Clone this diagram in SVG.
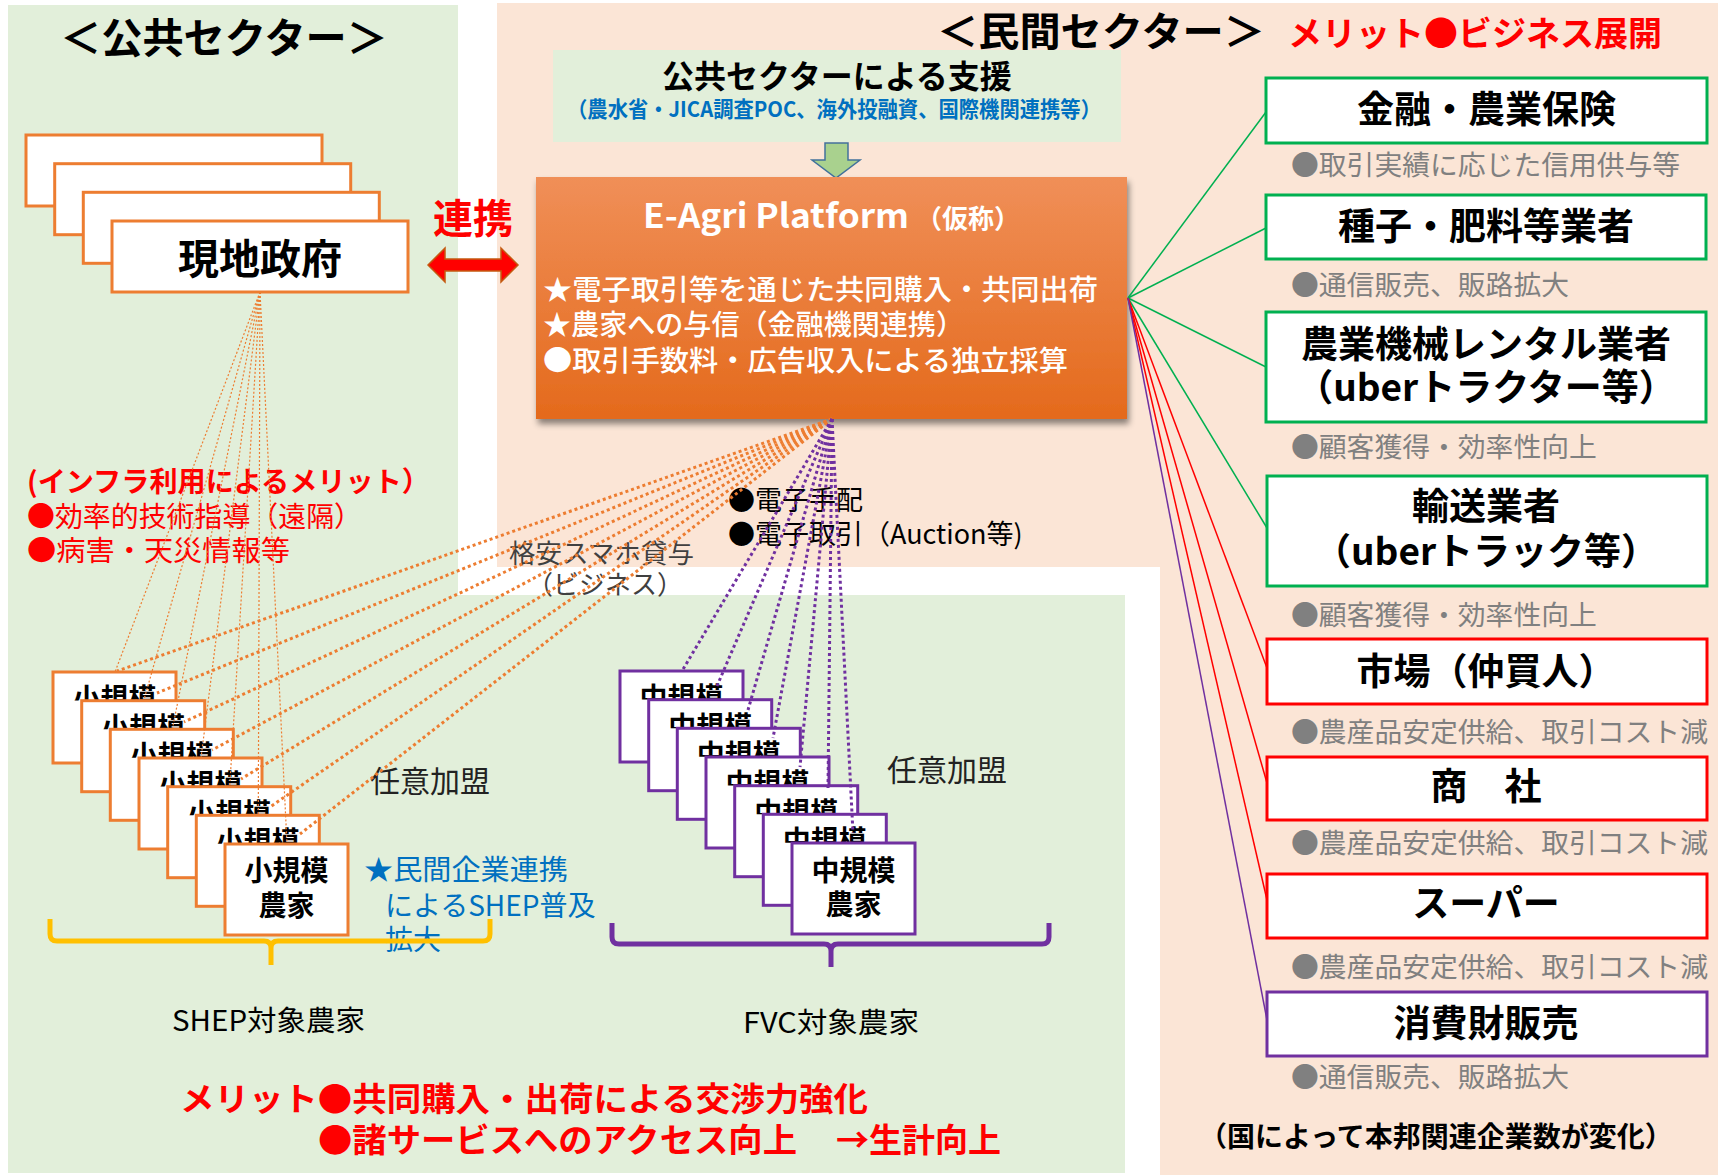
<svg xmlns="http://www.w3.org/2000/svg" width="1718" height="1175" viewBox="0 0 1718 1175">
<defs>
<linearGradient id="gOrange" x1="0" y1="0" x2="0" y2="1">
<stop offset="0" stop-color="#F08F58"/>
<stop offset="1" stop-color="#E46A1C"/>
</linearGradient>
<filter id="shadow" x="-5%" y="-5%" width="110%" height="115%">
<feDropShadow dx="2" dy="5" stdDeviation="3" flood-color="#000" flood-opacity="0.45"/>
</filter>
<clipPath id="cs1" clipPathUnits="userSpaceOnUse"><rect x="53" y="672" width="123" height="28.5"/></clipPath>
<clipPath id="cs2" clipPathUnits="userSpaceOnUse"><rect x="81.7" y="700.7" width="123" height="28.5"/></clipPath>
<clipPath id="cs3" clipPathUnits="userSpaceOnUse"><rect x="110.3" y="729.3" width="123" height="28.5"/></clipPath>
<clipPath id="cs4" clipPathUnits="userSpaceOnUse"><rect x="139" y="758" width="123" height="28.5"/></clipPath>
<clipPath id="cs5" clipPathUnits="userSpaceOnUse"><rect x="167.7" y="786.7" width="123" height="28.5"/></clipPath>
<clipPath id="cs6" clipPathUnits="userSpaceOnUse"><rect x="196.3" y="815.3" width="123" height="28.5"/></clipPath>
<clipPath id="cm1" clipPathUnits="userSpaceOnUse"><rect x="620" y="671" width="123" height="28.5"/></clipPath>
<clipPath id="cm2" clipPathUnits="userSpaceOnUse"><rect x="648.7" y="699.7" width="123" height="28.5"/></clipPath>
<clipPath id="cm3" clipPathUnits="userSpaceOnUse"><rect x="677.3" y="728.3" width="123" height="28.5"/></clipPath>
<clipPath id="cm4" clipPathUnits="userSpaceOnUse"><rect x="706" y="757" width="123" height="28.5"/></clipPath>
<clipPath id="cm5" clipPathUnits="userSpaceOnUse"><rect x="734.7" y="785.7" width="123" height="28.5"/></clipPath>
<clipPath id="cm6" clipPathUnits="userSpaceOnUse"><rect x="763.3" y="814.3" width="123" height="28.5"/></clipPath>
</defs>
<style>
text{font-family:"Noto Sans CJK JP","Noto Sans",sans-serif;}
.b{font-weight:bold;}
.ob{fill:#fff;stroke:#ED7D31;stroke-width:3;}
.pb{fill:#fff;stroke:#7030A0;stroke-width:3;}
.gb{fill:#fff;stroke:#00B050;stroke-width:3;}
.rb{fill:#fff;stroke:#FF0000;stroke-width:3;}
.vb{fill:#fff;stroke:#7030A0;stroke-width:3;}
.farm{font-size:28px;font-weight:bold;fill:#000;text-anchor:middle;}
.biz{font-size:37px;font-weight:bold;fill:#000;text-anchor:middle;}
.gray{font-size:27.8px;fill:#808080;}
.thin{stroke:#ED7D31;stroke-width:1.2;stroke-dasharray:2 2;fill:none;}
.thick{stroke:#ED7D31;stroke-width:3;stroke-dasharray:3 3;fill:none;}
.purp{stroke:#7030A0;stroke-width:3;stroke-dasharray:3 3;fill:none;}
.gl{stroke:#00B050;stroke-width:1.5;fill:none;}
.rl{stroke:#FF0000;stroke-width:1.5;fill:none;}
.vl{stroke:#7030A0;stroke-width:1.5;fill:none;}
</style>

<!-- backgrounds -->
<g id="backgrounds">
<rect x="0" y="0" width="1718" height="1175" fill="#fff"/>
<path d="M497,3 H1718 V1175 H1160 V567 H497 Z" fill="#FBE5D6"/>
<path d="M8,5 H458 V595 H1125 V1173 H8 Z" fill="#E2EFDA"/>
</g>

<!-- titles -->
<g id="titles">
<text x="60" y="53" class="b" font-size="41" textLength="328" lengthAdjust="spacingAndGlyphs">＜公共セクター＞</text>
<text x="937" y="46" class="b" font-size="40" textLength="328" lengthAdjust="spacingAndGlyphs">＜民間セクター＞</text>
<text x="1288" y="46" class="b" font-size="34" fill="#FF0000" textLength="374" lengthAdjust="spacingAndGlyphs">メリット●ビジネス展開</text>
</g>

<!-- government stack -->
<g id="node-gov">
<rect class="ob" x="26" y="135" width="296" height="71"/>
<rect class="ob" x="54.7" y="163.7" width="296" height="71"/>
<rect class="ob" x="83.3" y="192.3" width="296" height="71"/>
<rect class="ob" x="112" y="221" width="296" height="71"/>
<text x="260" y="274" class="b" font-size="41" text-anchor="middle">現地政府</text>
</g>

<!-- renkei arrow -->
<g id="node-renkei">
<text x="433" y="233" class="b" font-size="40" fill="#FF0000">連携</text>
<path d="M428,265 L445,248 L445,259 L501,259 L501,248 L518,265 L501,282 L501,271 L445,271 L445,282 Z" fill="#FF0000" stroke="#C55A11" stroke-width="1.5"/>
</g>

<!-- public support box -->
<g id="node-support">
<rect x="553" y="50" width="568" height="92" fill="#E2EFDA"/>
<text x="837" y="88" class="b" font-size="32" text-anchor="middle">公共セクターによる支援</text>
<text x="567" y="117" class="b" font-size="21.5" fill="#0070C0" textLength="534" lengthAdjust="spacingAndGlyphs">（農水省・JICA調査POC、海外投融資、国際機関連携等）</text>
<path d="M825,143 H848 V160 H860 L836,178 L812,160 H825 Z" fill="#A9D18E" stroke="#41719C" stroke-width="1.5"/>
</g>

<!-- E-Agri platform -->
<g id="node-platform">
<rect x="536" y="177" width="591" height="242" fill="url(#gOrange)" filter="url(#shadow)"/>
<text x="643" y="228" font-family="Noto Sans, sans-serif" font-weight="bold" font-size="33" fill="#fff" textLength="266" lengthAdjust="spacingAndGlyphs">E-Agri Platform</text>
<text x="916" y="228" class="b" font-size="26" fill="#fff">（仮称）</text>
<text x="543" y="300" font-size="28" font-weight="500" fill="#fff" textLength="555" lengthAdjust="spacingAndGlyphs">★電子取引等を通じた共同購入・共同出荷</text>
<text x="543" y="335" font-size="28" font-weight="500" fill="#fff" textLength="421" lengthAdjust="spacingAndGlyphs">★農家への与信（金融機関連携）</text>
<text x="543" y="371" font-size="28" font-weight="500" fill="#fff" textLength="525" lengthAdjust="spacingAndGlyphs">●取引手数料・広告収入による独立採算</text>
</g>

<!-- left texts -->
<g id="infra-texts">
<text x="27" y="492" class="b" font-size="28" fill="#FF0000" textLength="403" lengthAdjust="spacingAndGlyphs">(インフラ利用によるメリット）</text>
<text x="27" y="527" font-size="28" fill="#FF0000" textLength="335" lengthAdjust="spacingAndGlyphs">●効率的技術指導（遠隔）</text>
<text x="27" y="561" font-size="28" fill="#FF0000" textLength="263" lengthAdjust="spacingAndGlyphs">●病害・天災情報等</text>
</g>

<g id="labels-mid">
<text x="728" y="510" font-size="27" fill="#000">●電子手配</text>
<text x="728" y="544" font-size="27" fill="#000">●電子取引（Auction等)</text>
<text x="509" y="563" font-size="26" fill="#404040" textLength="185" lengthAdjust="spacingAndGlyphs">格安スマホ貸与</text>
<text x="527" y="594" font-size="26" fill="#404040">（ビジネス）</text>
<text x="370" y="792" font-size="30" fill="#222">任意加盟</text>
<text x="887" y="781" font-size="30" fill="#222">任意加盟</text>
<text x="364" y="880" font-size="28" fill="#0070C0" textLength="204" lengthAdjust="spacingAndGlyphs">★民間企業連携</text>
<text x="385" y="916" font-size="28" fill="#0070C0">によるSHEP普及</text>
<text x="385" y="950" font-size="28" fill="#0070C0">拡大</text>
</g>

<!-- small farmers -->
<g id="node-small-farmers">
<rect class="ob" x="53" y="672" width="123" height="91"/><text class="farm" x="114.5" y="709" clip-path="url(#cs1)">小規模</text>
<rect class="ob" x="81.7" y="700.7" width="123" height="91"/><text class="farm" x="143.2" y="737.7" clip-path="url(#cs2)">小規模</text>
<rect class="ob" x="110.3" y="729.3" width="123" height="91"/><text class="farm" x="171.8" y="766.3" clip-path="url(#cs3)">小規模</text>
<rect class="ob" x="139" y="758" width="123" height="91"/><text class="farm" x="200.5" y="795" clip-path="url(#cs4)">小規模</text>
<rect class="ob" x="167.7" y="786.7" width="123" height="91"/><text class="farm" x="229.2" y="823.7" clip-path="url(#cs5)">小規模</text>
<rect class="ob" x="196.3" y="815.3" width="123" height="91"/><text class="farm" x="257.8" y="852.3" clip-path="url(#cs6)">小規模</text>
<rect class="ob" x="225" y="844" width="123" height="91"/><text class="farm" x="286.5" y="881">小規模</text><text class="farm" x="286.5" y="916">農家</text>
</g>

<!-- medium farmers -->
<g id="node-medium-farmers">
<rect class="pb" x="620" y="671" width="123" height="91"/><text class="farm" x="681.5" y="708" clip-path="url(#cm1)">中規模</text>
<rect class="pb" x="648.7" y="699.7" width="123" height="91"/><text class="farm" x="710.2" y="736.7" clip-path="url(#cm2)">中規模</text>
<rect class="pb" x="677.3" y="728.3" width="123" height="91"/><text class="farm" x="738.8" y="765.3" clip-path="url(#cm3)">中規模</text>
<rect class="pb" x="706" y="757" width="123" height="91"/><text class="farm" x="767.5" y="794" clip-path="url(#cm4)">中規模</text>
<rect class="pb" x="734.7" y="785.7" width="123" height="91"/><text class="farm" x="796.2" y="822.7" clip-path="url(#cm5)">中規模</text>
<rect class="pb" x="763.3" y="814.3" width="123" height="91"/><text class="farm" x="824.8" y="851.3" clip-path="url(#cm6)">中規模</text>
<rect class="pb" x="792" y="843" width="123" height="91"/><text class="farm" x="853.5" y="881">中規模</text><text class="farm" x="853.5" y="915">農家</text>
</g>

<!-- braces and group labels -->
<g id="node-groups">
<path d="M50,919 V934 Q50,941 57,941 H264 Q271,941 271,948 V965 M271,948 Q271,941 278,941 H483 Q490,941 490,934 V919" fill="none" stroke="#FFC000" stroke-width="5"/>
<path d="M612,923 V937 Q612,944 619,944 H824 Q831,944 831,951 V967 M831,951 Q831,944 838,944 H1042 Q1049,944 1049,937 V923" fill="none" stroke="#7030A0" stroke-width="5"/>
<text x="172" y="1031" font-size="28" fill="#000" textLength="193" lengthAdjust="spacingAndGlyphs">SHEP対象農家</text>
<text x="743" y="1033" font-size="28" fill="#000" textLength="176" lengthAdjust="spacingAndGlyphs">FVC対象農家</text>
</g>

<!-- bottom merit -->
<g id="merit">
<text x="180" y="1111" class="b" font-size="32.7" fill="#FF0000" textLength="688" lengthAdjust="spacingAndGlyphs">メリット●共同購入・出荷による交渉力強化</text>
<text y="1152" class="b" font-size="33" fill="#FF0000"><tspan x="318" textLength="479" lengthAdjust="spacingAndGlyphs">●諸サービスへのアクセス向上</tspan><tspan x="836">→生計向上</tspan></text>
</g>

<!-- private sector business nodes -->
<g id="node-finance">
<rect class="gb" x="1266" y="78" width="441" height="65"/>
<text class="biz" x="1486.5" y="123">金融・農業保険</text>
<text class="gray" x="1291" y="175">●取引実績に応じた信用供与等</text>
</g>
<g id="node-seed">
<rect class="gb" x="1266" y="195" width="440" height="64"/>
<text class="biz" x="1486" y="240">種子・肥料等業者</text>
<text class="gray" x="1291" y="295">●通信販売、販路拡大</text>
</g>
<g id="node-machine">
<rect class="gb" x="1266" y="312" width="440" height="110"/>
<text class="biz" x="1486" y="358">農業機械レンタル業者</text>
<text class="biz" x="1486" y="401">（uberトラクター等）</text>
<text class="gray" x="1291" y="457">●顧客獲得・効率性向上</text>
</g>
<g id="node-transport">
<rect class="gb" x="1267" y="476" width="440" height="110"/>
<text class="biz" x="1486" y="520">輸送業者</text>
<text class="biz" x="1486" y="565">（uberトラック等）</text>
<text class="gray" x="1291" y="625">●顧客獲得・効率性向上</text>
</g>
<g id="node-market">
<rect class="rb" x="1267" y="639" width="440" height="65"/>
<text class="biz" x="1486" y="685">市場（仲買人）</text>
<text class="gray" x="1291" y="742">●農産品安定供給、取引コスト減</text>
</g>
<g id="node-trading">
<rect class="rb" x="1267" y="757" width="440" height="63"/>
<text class="biz" x="1486" y="800">商　社</text>
<text class="gray" x="1291" y="853">●農産品安定供給、取引コスト減</text>
</g>
<g id="node-super">
<rect class="rb" x="1267" y="874" width="440" height="64"/>
<text class="biz" x="1486" y="917">スーパー</text>
<text class="gray" x="1291" y="977">●農産品安定供給、取引コスト減</text>
</g>
<g id="node-consumer">
<rect class="vb" x="1267" y="992" width="440" height="64"/>
<text class="biz" x="1486" y="1037">消費財販売</text>
<text class="gray" x="1291" y="1087">●通信販売、販路拡大</text>
</g>
<g id="note">
<text x="1199" y="1147" class="b" font-size="28" fill="#000">（国によって本邦関連企業数が変化）</text>
</g>

<!-- connectors -->
<g id="connectors">
<line class="thin" x1="260" y1="292" x2="115" y2="672"/>
<line class="thin" x1="260" y1="292" x2="143.7" y2="700.7"/>
<line class="thin" x1="260" y1="292" x2="172.3" y2="729.3"/>
<line class="thin" x1="260" y1="292" x2="201" y2="758"/>
<line class="thin" x1="260" y1="292" x2="229.7" y2="786.7"/>
<line class="thin" x1="260" y1="292" x2="258.3" y2="815.3"/>
<line class="thin" x1="260" y1="292" x2="287" y2="844"/>
<line class="thick" x1="832" y1="419" x2="117" y2="671"/>
<line class="thick" x1="832" y1="419" x2="157" y2="693"/>
<line class="thick" x1="832" y1="419" x2="184" y2="722"/>
<line class="thick" x1="832" y1="419" x2="212" y2="750"/>
<line class="thick" x1="832" y1="419" x2="241" y2="779"/>
<line class="thick" x1="832" y1="419" x2="270" y2="807"/>
<line class="thick" x1="832" y1="419" x2="300" y2="834"/>
<line class="purp" x1="832" y1="419" x2="682" y2="671"/>
<line class="purp" x1="832" y1="419" x2="717" y2="686"/>
<line class="purp" x1="832" y1="419" x2="748" y2="710"/>
<line class="purp" x1="832" y1="419" x2="773" y2="738"/>
<line class="purp" x1="832" y1="419" x2="800" y2="767"/>
<line class="purp" x1="832" y1="419" x2="828" y2="788"/>
<line class="purp" x1="832" y1="419" x2="853" y2="833"/>
<line class="gl" x1="1128" y1="298" x2="1266" y2="112"/>
<line class="gl" x1="1128" y1="298" x2="1266" y2="228"/>
<line class="gl" x1="1128" y1="298" x2="1266" y2="367"/>
<line class="gl" x1="1128" y1="298" x2="1267" y2="528"/>
<line class="rl" x1="1128" y1="298" x2="1267" y2="668"/>
<line class="rl" x1="1128" y1="298" x2="1267" y2="783"/>
<line class="rl" x1="1128" y1="298" x2="1267" y2="900"/>
<line class="vl" x1="1128" y1="298" x2="1267" y2="1020"/>
</g>
</svg>
